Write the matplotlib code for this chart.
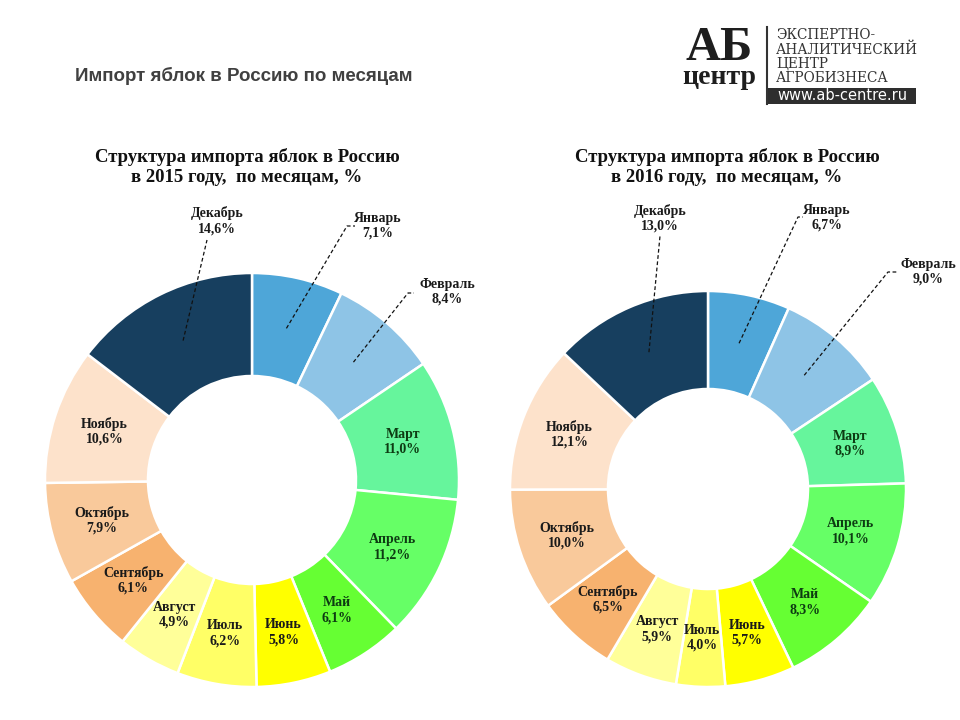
import matplotlib.pyplot as plt
import matplotlib.patches as patches
import numpy as np

# data
months = ["Январь", "Февраль", "Март", "Апрель", "Май", "Июнь",
          "Июль", "Август", "Сентябрь", "Октябрь", "Ноябрь", "Декабрь"]
share_2015 = [7.1, 8.4, 11.0, 11.2, 6.1, 5.8, 6.2, 4.9, 6.1, 7.9, 10.6, 14.6]
share_2016 = [6.7, 9.0, 8.9, 10.1, 8.3, 5.7, 4.0, 5.9, 6.5, 10.0, 12.1, 13.0]

colors = ["#4ea6d8", "#8ec4e6", "#66f59c", "#66ff66", "#66ff33", "#ffff00",
          "#ffff66", "#ffff99", "#f7b26f", "#f9c99b", "#fde2cb", "#173f5f"]
text_colors = ["#1a1a1a"] * 2 + ["#0d3b12"] * 3 + ["#1a1a1a"] * 7

W, H = 960, 720
SERIF = ["Liberation Serif", "DejaVu Serif"]

# layout of the labels that sit outside the ring (image pixels, y from top)
callouts_2015 = {
    11: dict(text=(217, 221), path=[(207, 240)]),
    0: dict(text=(378, 226), path=[(347, 226), (355, 226)]),
    1: dict(text=(447, 292), path=[(408, 293), (414, 293)]),
}
callouts_2016 = {
    11: dict(text=(660, 218), path=[(660, 236)]),
    0: dict(text=(827, 218), path=[(798, 217), (803, 217)]),
    1: dict(text=(928, 272), path=[(888, 272), (897, 272)]),
}


def fmt(month, v):
    return "%s\n%s%%" % (month, ("%.1f" % v).replace(".", ","))


def donut(ax, values, cx, cy, r_out, r_in, callouts):
    wedges, _ = ax.pie(values, colors=colors, startangle=90, counterclock=False,
                       radius=r_out, center=(cx, H - cy),
                       wedgeprops=dict(width=r_out - r_in, edgecolor="white",
                                       linewidth=1.8))
    r_mid = (r_out + r_in) / 2
    for i, w in enumerate(wedges):
        ang = np.deg2rad((w.theta1 + w.theta2) / 2)
        px = cx + r_mid * np.cos(ang)
        py = H - cy + r_mid * np.sin(ang)
        txt = fmt(months[i], values[i])
        if i in callouts:
            c = callouts[i]
            xs = [px] + [p[0] for p in c["path"]]
            ys = [py] + [H - p[1] for p in c["path"]]
            ax.plot(xs, ys, color="#111111", lw=0.9, ls=(0, (3, 2)))
            px, py = c["text"][0], H - c["text"][1]
        ax.text(px, py, txt, ha="center", va="center", fontsize=10,
                fontweight="bold", family=SERIF, color=text_colors[i],
                linespacing=1.2)


fig = plt.figure(figsize=(9.6, 7.2), dpi=100)
ax = fig.add_axes([0, 0, 1, 1])

donut(ax, share_2015, 252, 480, 207, 104, callouts_2015)
donut(ax, share_2016, 708, 489, 198, 100, callouts_2016)

ax.set_xlim(0, W)
ax.set_ylim(0, H)
ax.set_aspect("equal")
ax.axis("off")

# header
ax.text(75, H - 76, "Импорт яблок в Россию по месяцам", fontsize=13.5,
        fontweight="bold", family=["Liberation Sans", "DejaVu Sans"],
        color="#404040", va="center", ha="left")

# chart titles
ax.text(247, H - 167, "Структура импорта яблок в Россию\nв 2015 году,  по месяцам, %",
        ha="center", va="center", fontsize=13.5, fontweight="bold",
        family=SERIF, color="#111111", linespacing=1.2)
ax.text(727, H - 167, "Структура импорта яблок в Россию\nв 2016 году,  по месяцам, %",
        ha="center", va="center", fontsize=13.5, fontweight="bold",
        family=SERIF, color="#111111", linespacing=1.2)

# logo
ax.text(719, H - 60, "АБ", ha="center", va="baseline", fontsize=35,
        fontweight="bold", family=SERIF, color="#1e1e1e")
ax.text(719, H - 84, "центр", ha="center", va="baseline", fontsize=20,
        fontweight="bold", family=SERIF, color="#1e1e1e")
ax.plot([767, 767], [H - 27, H - 104], color="#333333", lw=1.5)
for k, line in enumerate(["ЭКСПЕРТНО-", "АНАЛИТИЧЕСКИЙ", "ЦЕНТР", "АГРОБИЗНЕСА"]):
    ax.text(776, H - 39 - k * 14.5, line, ha="left", va="baseline", fontsize=9.8,
            family="DejaVu Serif", color="#333333")
ax.add_patch(patches.Rectangle((768, H - 104), 148, 16, color="#2e2e2e", lw=0))
ax.text(842, H - 96, "www.ab-centre.ru", ha="center", va="center",
        fontsize=10.5, family="DejaVu Sans", color="white")

fig.savefig("out.png", dpi=100)
